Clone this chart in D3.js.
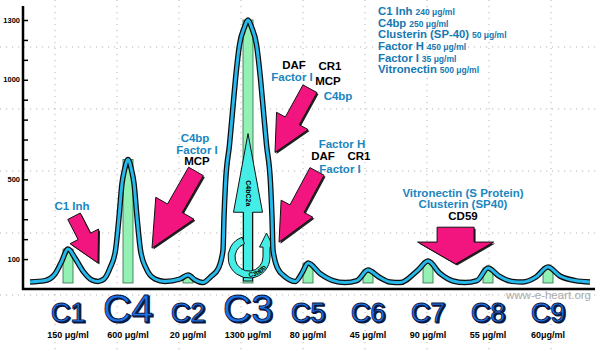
<!DOCTYPE html>
<html>
<head>
<meta charset="utf-8">
<script src="https://cdn.jsdelivr.net/npm/d3@7"></script>
<style>
  body { margin: 0; background: #fff; }
  svg { display: block; font-family: "Liberation Sans", Arial, sans-serif; }
</style>
</head>
<body>
<div id="chart"></div>
<script>
// components and serum concentrations (µg/ml)
const categories = ["C1", "C4", "C2", "C3", "C5", "C6", "C7", "C8", "C9"];
const concentrations = [150, 600, 20, 1300, 80, 45, 90, 55, 60];
const concLabels = ["150 μg/ml", "600 μg/ml", "20 μg/ml", "1300 μg/ml", "80 μg/ml",
    "45 μg/ml", "90 μg/ml", "55 μg/ml", "60μg/ml"];

// elution profile: position (component index) and level
const curvePos = [-0.633, -0.383, -0.217, -0.117, 0, 0.117, 0.25, 0.4, 0.5, 0.6, 0.7, 0.792, 0.85,
    0.9, 0.94, 1, 1.06, 1.1, 1.15, 1.208, 1.3, 1.45, 1.617, 1.867, 2, 2.12, 2.25, 2.375, 2.508,
    2.583, 2.6, 2.625, 2.692, 2.742, 2.792, 2.858, 2.942, 3, 3.058, 3.142, 3.208, 3.258, 3.308,
    3.375, 3.4, 3.417, 3.492, 3.625, 3.79, 3.9, 4, 4.2, 4.417, 4.617, 4.817, 5, 5.183, 5.367,
    5.533, 5.833, 6, 6.2, 6.417, 6.617, 6.817, 7, 7.183, 7.4, 7.583, 7.8, 8, 8.2, 8.45, 8.7];
const curveVal = [-15, -8, 25, 80, 150, 105, 40, -5, -12, 0, 55, 145, 310,
    480, 545, 600, 545, 480, 310, 145, 55, 0, -12, 0, 20, -5, -18, 10, 55,
    145, 310, 480, 675, 840, 1005, 1175, 1265, 1300, 1265, 1175, 1005, 840, 675,
    480, 310, 145, 55, 10, -12, 30, 80, 28, -8, -18, -8, 45, 10, -15,
    -18, 45, 90, 28, -10, -18, -8, 55, 15, -12, -15, 10, 60, 15, -8, -15];

const yTicks = d3.range(100, 1301, 100);
const yTickLabels = [100, 500, 1000, 1300];

// regulators in plasma
const regulatorNames = ["C1 Inh", "C4bp", "Clusterin (SP-40)", "Factor H", "Factor I", "Vitronectin"];
const regulatorConc = ["240 μg/ml", "250 μg/ml", "50 μg/ml", "450 μg/ml", "35 μg/ml", "500 μg/ml"];

const width = 600, height = 351;
const blue = "#1a86bf";

const svg = d3.select("#chart").append("svg")
    .attr("width", width)
    .attr("height", height);

const x = d3.scaleLinear().domain([0, 8]).range([68, 548]);
const y = d3.scaleLinear().domain([0, 1300]).range([279, 20]);
const baseValue = -20;

// dotted background grid
const grid = svg.append("g")
    .attr("stroke", "#b8b8b8")
    .attr("stroke-width", 1)
    .attr("stroke-dasharray", "1.2 4.8");
grid.selectAll(".gv")
    .data(d3.range(9))
    .join("line")
    .attr("class", "gv")
    .attr("x1", d => 55 + 62 * d).attr("x2", d => 55 + 62 * d)
    .attr("y1", 0).attr("y2", height);
grid.selectAll(".gh")
    .data(d3.range(5))
    .join("line")
    .attr("class", "gh")
    .attr("x1", 0).attr("x2", width)
    .attr("y1", d => 47 + 62 * d).attr("y2", d => 47 + 62 * d);

// axes
const yAxis = svg.append("g")
    .attr("transform", "translate(23,0)")
    .call(d3.axisRight(y).tickValues(yTicks).tickSize(5).tickSizeOuter(0).tickFormat(""));
yAxis.select(".domain").remove();
yAxis.selectAll(".tick line").attr("stroke", "#000").attr("stroke-width", 1.5);

svg.append("line")
    .attr("x1", 23).attr("x2", 23)
    .attr("y1", 6).attr("y2", 290)
    .attr("stroke", "#000").attr("stroke-width", 2.5);
svg.append("line")
    .attr("x1", 22).attr("x2", 595)
    .attr("y1", 289).attr("y2", 289)
    .attr("stroke", "#000").attr("stroke-width", 2.5);

svg.selectAll(".ylab")
    .data(yTickLabels)
    .join("text")
    .attr("class", "ylab")
    .attr("x", 20)
    .attr("y", d => y(d))
    .attr("dy", "0.35em")
    .attr("text-anchor", "end")
    .attr("font-size", 7.5)
    .attr("font-weight", "bold")
    .text(d => d);

// concentration bars
svg.selectAll(".bar")
    .data(concentrations)
    .join("rect")
    .attr("class", "bar")
    .attr("x", (d, i) => x(i) - 5)
    .attr("y", d => y(d))
    .attr("width", 10)
    .attr("height", d => y(baseValue) - y(d))
    .attr("fill", "#93f1b4")
    .attr("stroke", "#2f6a48")
    .attr("stroke-width", 0.8);

// C3 convertase arrows
const cx3 = x(3) + 1, cy3 = y(110);
const c3Arrow = [
    [x(3), y(730)],
    [x(3) + 14.5, y(335)],
    [x(3) + 4.5, y(335)],
    [x(3) + 4.5, y(-10)],
    [x(3) - 4.5, y(-10)],
    [x(3) - 4.5, y(335)],
    [x(3) - 14.5, y(335)]
];
svg.append("path")
    .attr("d", "M" + c3Arrow.join("L") + "Z")
    .attr("fill", "#44eee6")
    .attr("stroke", "#111")
    .attr("stroke-width", 1);

svg.append("text")
    .attr("transform", `translate(${x(3) - 2.5},${y(430)}) rotate(90)`)
    .attr("text-anchor", "middle")
    .attr("font-size", 7)
    .attr("font-weight", "bold")
    .text("C4bC2a");

const ri = 14, ro = 21, rm = (ri + ro) / 2, endA = 1.5 * Math.PI - 0.33;
const ringPath = [
    `M${cx3 + ro},${cy3 - 10}`,
    `L${cx3 + ro},${cy3}`,
    `A${ro},${ro} 0 1 1 ${cx3 + ro * Math.cos(endA)},${cy3 + ro * Math.sin(endA)}`,
    `L${cx3 + ri * Math.cos(endA)},${cy3 + ri * Math.sin(endA)}`,
    `A${ri},${ri} 0 1 0 ${cx3 + ri},${cy3}`,
    `L${cx3 + ri},${cy3 - 10}`,
    `L${cx3 + rm - 7},${cy3 - 10}`,
    `L${cx3 + rm},${cy3 - 24}`,
    `L${cx3 + rm + 7},${cy3 - 10}`,
    "Z"
].join("");
svg.append("path")
    .attr("d", ringPath)
    .attr("fill", "#44eee6")
    .attr("stroke", "#111")
    .attr("stroke-width", 1);

const rt = rm + 2.3, a1 = 2.1, a2 = 0.0;
svg.append("path")
    .attr("id", "ringText")
    .attr("fill", "none")
    .attr("d", `M${cx3 + rt * Math.cos(a1)},${cy3 + rt * Math.sin(a1)} A${rt},${rt} 0 0 0 ${cx3 + rt * Math.cos(a2)},${cy3 + rt * Math.sin(a2)}`);
svg.append("text")
    .attr("font-size", 6.5)
    .attr("font-weight", "bold")
    .append("textPath")
    .attr("href", "#ringText")
    .attr("startOffset", "50%")
    .attr("text-anchor", "middle")
    .text("C3bBb");

// elution curve
const line = d3.line()
    .x(d => x(d[0]))
    .y(d => y(d[1]))
    .curve(d3.curveMonotoneX);
const curveData = d3.zip(curvePos, curveVal);
svg.append("path")
    .attr("d", line(curveData))
    .attr("fill", "none")
    .attr("stroke", "#0d0d0d")
    .attr("stroke-width", 5.5)
    .attr("stroke-linejoin", "round");
svg.append("path")
    .attr("d", line(curveData))
    .attr("fill", "none")
    .attr("stroke", "#27b8ec")
    .attr("stroke-width", 3)
    .attr("stroke-linejoin", "round");

// pink regulator arrows (tail, tip in data units)
const pinkArrows = [
    {from: [0.1, 315], to: [0.5, 80], shaft: 14, head: 32, headLen: 30},
    {from: [2.133, 540], to: [1.4, 155], shaft: 17, head: 44, headLen: 46},
    {from: [4.033, 955], to: [3.45, 635], shaft: 16, head: 36, headLen: 36},
    {from: [4.15, 540], to: [3.517, 185], shaft: 16, head: 36, headLen: 38},
    {from: [6.46, 260], to: [6.46, 75], shaft: 37, head: 76, headLen: 22}
];

function arrowPath(a) {
    const x0 = x(a.from[0]), y0 = y(a.from[1]), x1 = x(a.to[0]), y1 = y(a.to[1]);
    const L = Math.hypot(x1 - x0, y1 - y0);
    const ux = (x1 - x0) / L, uy = (y1 - y0) / L, nx = -uy, ny = ux;
    const bx = x1 - ux * a.headLen, by = y1 - uy * a.headLen;
    const s = a.shaft / 2, h = a.head / 2;
    const pts = [
        [x0 + nx * s, y0 + ny * s], [bx + nx * s, by + ny * s], [bx + nx * h, by + ny * h],
        [x1, y1],
        [bx - nx * h, by - ny * h], [bx - nx * s, by - ny * s], [x0 - nx * s, y0 - ny * s]
    ];
    return "M" + pts.join("L") + "Z";
}

const arrows = svg.append("g");
arrows.selectAll(".shadow")
    .data(pinkArrows)
    .join("path")
    .attr("class", "shadow")
    .attr("d", arrowPath)
    .attr("transform", "translate(1.5,1.5)")
    .attr("fill", "#222");
arrows.selectAll(".arrow")
    .data(pinkArrows)
    .join("path")
    .attr("class", "arrow")
    .attr("d", arrowPath)
    .attr("fill", "#f2157f")
    .attr("stroke", "#111")
    .attr("stroke-width", 1);

// annotation texts
const notes = [
    ["C1 Inh", 72, 210, blue],
    ["C4bp", 195, 142, blue], ["Factor I", 197, 154, blue], ["MCP", 197, 165, "#000"],
    ["DAF", 294, 69, "#000"], ["CR1", 330, 70, "#000"], ["Factor I", 292, 81, blue],
    ["MCP", 328, 85, "#000"], ["C4bp", 338, 100, blue],
    ["Factor H", 342, 148, blue], ["DAF", 323, 160, "#000"], ["CR1", 359, 160, "#000"],
    ["Factor I", 340, 173, blue],
    ["Vitronectin (S Protein)", 463, 197, blue], ["Clusterin (SP40)", 463, 208, blue],
    ["CD59", 463, 220, "#000"]
];
svg.selectAll(".note")
    .data(notes)
    .join("text")
    .attr("class", "note")
    .attr("x", d => d[1])
    .attr("y", d => d[2])
    .attr("text-anchor", "middle")
    .attr("font-size", 11.5)
    .attr("font-weight", "bold")
    .attr("fill", d => d[3])
    .text(d => d[0]);

// regulator list top right
const legend = svg.selectAll(".reg")
    .data(regulatorNames)
    .join("text")
    .attr("class", "reg")
    .attr("x", 378)
    .attr("y", (d, i) => 15 + i * 11.65)
    .attr("font-weight", "bold")
    .attr("fill", "#1678b2");
legend.append("tspan").attr("font-size", 11.3).text(d => d);
legend.append("tspan").attr("font-size", 8.5).attr("dx", 3).text((d, i) => regulatorConc[i]);

// component labels
const labelSize = d => (d === "C4" || d === "C3") ? 39 : 27;
svg.selectAll(".catShadow")
    .data(categories)
    .join("text")
    .attr("class", "catShadow")
    .attr("x", (d, i) => x(i) + 1.3)
    .attr("y", 323)
    .attr("text-anchor", "middle")
    .attr("font-size", labelSize)
    .attr("fill", "#0a1640")
    .attr("stroke", "#0a1640")
    .attr("stroke-width", 1.2)
    .text(d => d);
svg.selectAll(".cat")
    .data(categories)
    .join("text")
    .attr("class", "cat")
    .attr("x", (d, i) => x(i))
    .attr("y", 322)
    .attr("text-anchor", "middle")
    .attr("font-size", labelSize)
    .attr("fill", "#1c74ea")
    .attr("stroke", "#0a1640")
    .attr("stroke-width", 0.9)
    .text(d => d);

svg.selectAll(".conc")
    .data(concLabels)
    .join("text")
    .attr("class", "conc")
    .attr("x", (d, i) => x(i))
    .attr("y", 338)
    .attr("text-anchor", "middle")
    .attr("font-size", 9)
    .attr("font-weight", "bold")
    .text(d => d);

svg.append("text")
    .attr("x", 591)
    .attr("y", 299)
    .attr("text-anchor", "end")
    .attr("font-size", 11.5)
    .attr("fill", "#aaaaaa")
    .text("www-e-heart.org");
</script>
</body>
</html>
